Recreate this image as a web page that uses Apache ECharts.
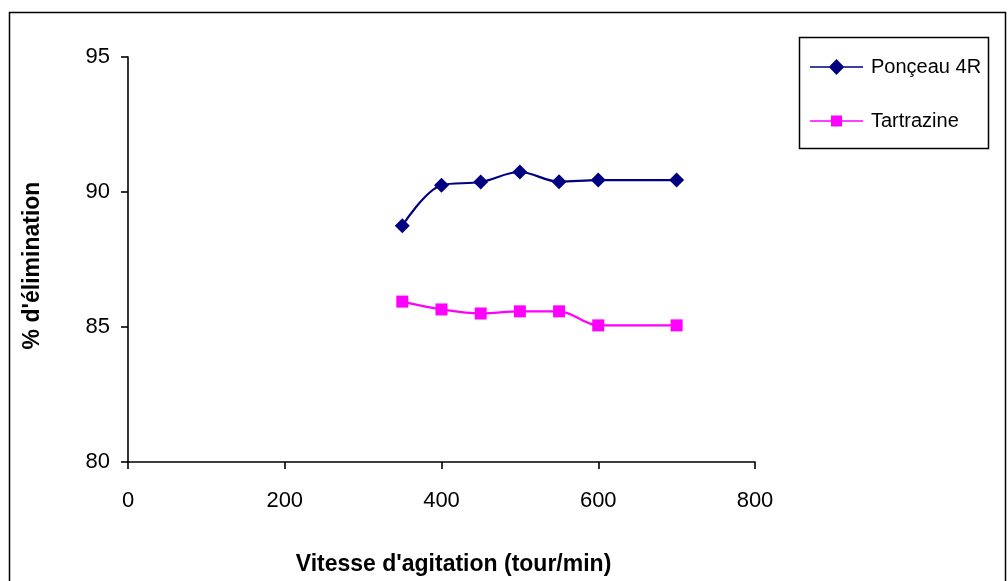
<!DOCTYPE html>
<html><head><meta charset="utf-8">
<script src="https://cdn.jsdelivr.net/npm/echarts@6/dist/echarts.min.js"></script>
<style>html,body{margin:0;padding:0;background:#fff}#c{width:1008px;height:581px}</style>
</head><body><div id="c"></div>
<script>
const speeds = [350, 400, 450, 500, 550, 600, 700];
const ponceau = [88.75, 90.25, 90.37, 90.74, 90.38, 90.44, 90.44];
const tartrazine = [85.94, 85.65, 85.5, 85.58, 85.58, 85.06, 85.06];
const seriesNames = ['Ponçeau 4R', 'Tartrazine'];
const xTitle = "Vitesse d'agitation (tour/min)";
const yTitle = "% d'élimination";

const chart = echarts.init(document.getElementById('c'), null, {renderer: 'canvas'});
const font = 'Liberation Sans, Arial, sans-serif';
const iconDiamond = 'path://M0,7.2L19.5,7.2L26.5,0L33.5,7.2L53,7.2L53,8.8L33.5,8.8L26.5,16L19.5,8.8L0,8.8Z';
const iconSquare = 'path://M0,7.2L21,7.2L21,2.5L32,2.5L32,7.2L53,7.2L53,8.8L32,8.8L32,13.5L21,13.5L21,8.8L0,8.8Z';
chart.setOption({
  animation: false,
  backgroundColor: '#fff',
  graphic: [
    {type: 'rect', shape: {x: 9.5, y: 12.5, width: 996, height: 600}, style: {fill: 'none', stroke: '#000', lineWidth: 1.5}},
    {type: 'rect', shape: {x: 799.5, y: 37.5, width: 189, height: 111}, style: {fill: '#fff', stroke: '#000', lineWidth: 1.5}}
  ],
  grid: {left: 128, right: 253, top: 57, bottom: 117, containLabel: false},
  legend: {
    left: 805, top: 52, orient: 'vertical', itemGap: 34,
    itemWidth: 53, itemHeight: 16,
    textStyle: {fontFamily: font, fontSize: 20, color: '#000', padding: [0, 0, 0, 3]},
    data: [
      {name: seriesNames[0], icon: iconDiamond, itemStyle: {color: '#000080'}},
      {name: seriesNames[1], icon: iconSquare, itemStyle: {color: '#ff00ff'}}
    ]
  },
  xAxis: {
    type: 'value', min: 0, max: 800, interval: 200,
    name: xTitle, nameLocation: 'middle', nameGap: 91,
    nameTextStyle: {fontFamily: font, fontSize: 23, fontWeight: 'bold', color: '#000', padding: [0, 0, 0, 24]},
    axisLine: {show: true, onZero: false, lineStyle: {color: '#000', width: 1.6}},
    axisTick: {show: true, inside: false, length: 7, lineStyle: {color: '#000', width: 1.6}},
    axisLabel: {fontFamily: font, fontSize: 22, color: '#000', margin: 28},
    splitLine: {show: false}
  },
  yAxis: {
    type: 'value', min: 80, max: 95, interval: 5,
    name: yTitle, nameLocation: 'middle', nameGap: 84, nameRotate: 90,
    nameTextStyle: {fontFamily: font, fontSize: 23, fontWeight: 'bold', color: '#000', padding: [0, 12, 0, 0]},
    axisLine: {show: true, lineStyle: {color: '#000', width: 1.6}},
    axisTick: {show: true, inside: false, length: 7, lineStyle: {color: '#000', width: 1.6}},
    axisLabel: {fontFamily: font, fontSize: 22, color: '#000', margin: 18},
    splitLine: {show: false}
  },
  series: [
    {
      name: seriesNames[0], type: 'line', smooth: 0.35,
      data: speeds.map((s, i) => [s, ponceau[i]]),
      symbol: 'diamond', symbolSize: 15,
      lineStyle: {color: '#000080', width: 2.2},
      itemStyle: {color: '#000080'}
    },
    {
      name: seriesNames[1], type: 'line', smooth: 0.35,
      data: speeds.map((s, i) => [s, tartrazine[i]]),
      symbol: 'rect', symbolSize: 12,
      lineStyle: {color: '#ff00ff', width: 2.2},
      itemStyle: {color: '#ff00ff'}
    }
  ]
});
</script></body></html>
